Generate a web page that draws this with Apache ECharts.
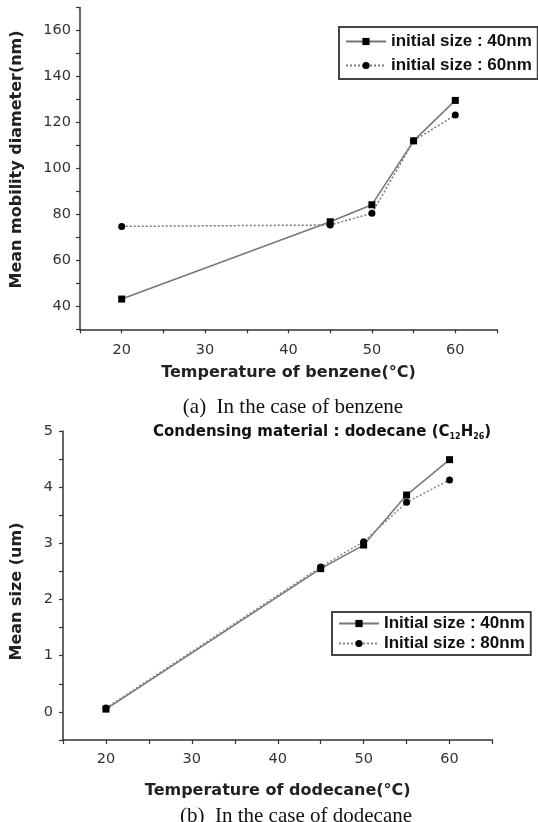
<!DOCTYPE html>
<html><head><meta charset="utf-8">
<script src="https://cdn.jsdelivr.net/npm/echarts@6/dist/echarts.min.js"></script>
<style>html,body{margin:0;padding:0;background:#fff}#c{width:538px;height:822px}</style>
</head><body><div id="c"></div>
<script>
// Panel (a): benzene
const tempA = [20, 45, 50, 55, 60];
const sizeA40 = [43.2, 76.8, 84.2, 112, 129.6];
const sizeA60 = [74.8, 75.4, 80.5, 112, 123.2];
const nameA40 = 'initial size : 40nm';
const nameA60 = 'initial size : 60nm';
// Panel (b): dodecane
const tempB = [20, 45, 50, 55, 60];
const sizeB40 = [0.05, 2.55, 2.97, 3.86, 4.49];
const sizeB80 = [0.07, 2.58, 3.03, 3.73, 4.13];
const nameB40 = 'Initial size : 40nm';
const nameB80 = 'Initial size : 80nm';

const pairs = (xs, ys) => xs.map((x, i) => [x, ys[i]]);
const axisCol = '#333';
const labelFont = {fontFamily: 'DejaVu Sans', fontSize: 14.5, color: '#333'};
const nameFont = {fontFamily: 'DejaVu Sans', fontSize: 16, fontWeight: 'bold', color: '#222'};

function xAx(grid, name, gap, margin) {
  return {type: 'value', gridIndex: grid, min: 15, max: 65, interval: 5,
    axisLine: {onZero: false, lineStyle: {color: axisCol, width: 1.5}},
    axisTick: {length: 4, lineStyle: {color: axisCol, width: 1.2}},
    splitLine: {show: false},
    axisLabel: Object.assign({margin: margin, formatter: v => (v % 10 === 0 ? String(v) : '')}, labelFont),
    name: name, nameLocation: 'middle', nameGap: gap, nameTextStyle: nameFont};
}

const chart = echarts.init(document.getElementById('c'));
chart.setOption({
  animation: false,
  grid: [
    {left: 80, right: 41, top: 7.5, bottom: 492.6},
    {left: 63, right: 45.5, top: 431, bottom: 82}
  ],
  xAxis: [xAx(0, 'Temperature of benzene(°C)', 35, 13), xAx(1, 'Temperature of dodecane(°C)', 43, 12)],
  yAxis: [
    {type: 'value', gridIndex: 0, min: 30, max: 170, interval: 10,
      axisLine: {show: true, onZero: false, lineStyle: {color: axisCol, width: 1.5}},
      axisTick: {show: true, length: 4, lineStyle: {color: axisCol, width: 1.2}},
      splitLine: {show: false},
      axisLabel: Object.assign({margin: 9, formatter: v => (v % 20 === 0 && v >= 40 && v <= 160 ? String(v) : '')}, labelFont),
      name: 'Mean mobility diameter(nm)', nameLocation: 'middle', nameGap: 55,
      nameTextStyle: Object.assign({padding: [0, 0, 0, 18]}, nameFont)},
    {type: 'value', gridIndex: 1, min: -0.5, max: 5, interval: 0.5,
      axisLine: {show: true, onZero: false, lineStyle: {color: axisCol, width: 1.5}},
      axisTick: {show: true, length: 4, lineStyle: {color: axisCol, width: 1.2}},
      splitLine: {show: false},
      axisLabel: Object.assign({margin: 10, formatter: v => (Math.abs(v - Math.round(v)) < 1e-9 && v >= 0 ? String(Math.round(v)) : '')}, labelFont),
      name: 'Mean size (um)', nameLocation: 'middle', nameGap: 38,
      nameTextStyle: Object.assign({padding: [0, 12, 0, 0]}, nameFont)}
  ],
  legend: [
    {data: [nameA40, nameA60], orient: 'vertical', left: 339, top: 27,
      borderColor: '#444', borderWidth: 2, padding: [6, 6, 5, 6], itemGap: 7,
      itemWidth: 40, itemHeight: 9,
      textStyle: {fontFamily: 'Liberation Sans', fontSize: 17, fontWeight: 'bold', color: '#111'}},
    {data: [nameB40, nameB80], orient: 'vertical', left: 332, top: 612,
      borderColor: '#444', borderWidth: 2, padding: [3, 6, 3, 6], itemGap: 3,
      itemWidth: 40, itemHeight: 9,
      textStyle: {fontFamily: 'Liberation Sans', fontSize: 17, fontWeight: 'bold', color: '#111'}}
  ],
  series: [
    {name: nameA40, type: 'line', xAxisIndex: 0, yAxisIndex: 0, data: pairs(tempA, sizeA40),
      symbol: 'rect', symbolSize: 7, itemStyle: {color: '#000'},
      lineStyle: {color: '#777', width: 1.5, type: 'solid'}},
    {name: nameA60, type: 'line', xAxisIndex: 0, yAxisIndex: 0, data: pairs(tempA, sizeA60),
      symbol: 'circle', symbolSize: 7, itemStyle: {color: '#000'},
      lineStyle: {color: '#777', width: 1.5, type: [2, 2]}},
    {name: nameB40, type: 'line', xAxisIndex: 1, yAxisIndex: 1, data: pairs(tempB, sizeB40),
      symbol: 'rect', symbolSize: 7, itemStyle: {color: '#000'},
      lineStyle: {color: '#777', width: 1.5, type: 'solid'}},
    {name: nameB80, type: 'line', xAxisIndex: 1, yAxisIndex: 1, data: pairs(tempB, sizeB80),
      symbol: 'circle', symbolSize: 7, itemStyle: {color: '#000'},
      lineStyle: {color: '#888', width: 1.5, type: [2, 2]}}
  ],
  graphic: [
    {type: 'text', x: 293, y: 407, style: {text: '(a)  In the case of benzene', fontFamily: 'Liberation Serif', fontSize: 21, fill: '#111', textAlign: 'center', textVerticalAlign: 'middle'}},
    {type: 'text', x: 296, y: 816, style: {text: '(b)  In the case of dodecane', fontFamily: 'Liberation Serif', fontSize: 21, fill: '#111', textAlign: 'center', textVerticalAlign: 'middle'}},
    {type: 'text', x: 153, y: 424, style: {
      text: '{a|Condensing material : dodecane (C}{s|12}{a|H}{s|26}{a|)}',
      rich: {a: {fontFamily: 'DejaVu Sans', fontSize: 15, fontWeight: 'bold', fill: '#111', color: '#111'},
             s: {fontFamily: 'DejaVu Sans', fontSize: 8, fontWeight: 'bold', fill: '#111', color: '#111', padding: [9, 0, 0, 0]}}}}
  ]
});
</script></body></html>
